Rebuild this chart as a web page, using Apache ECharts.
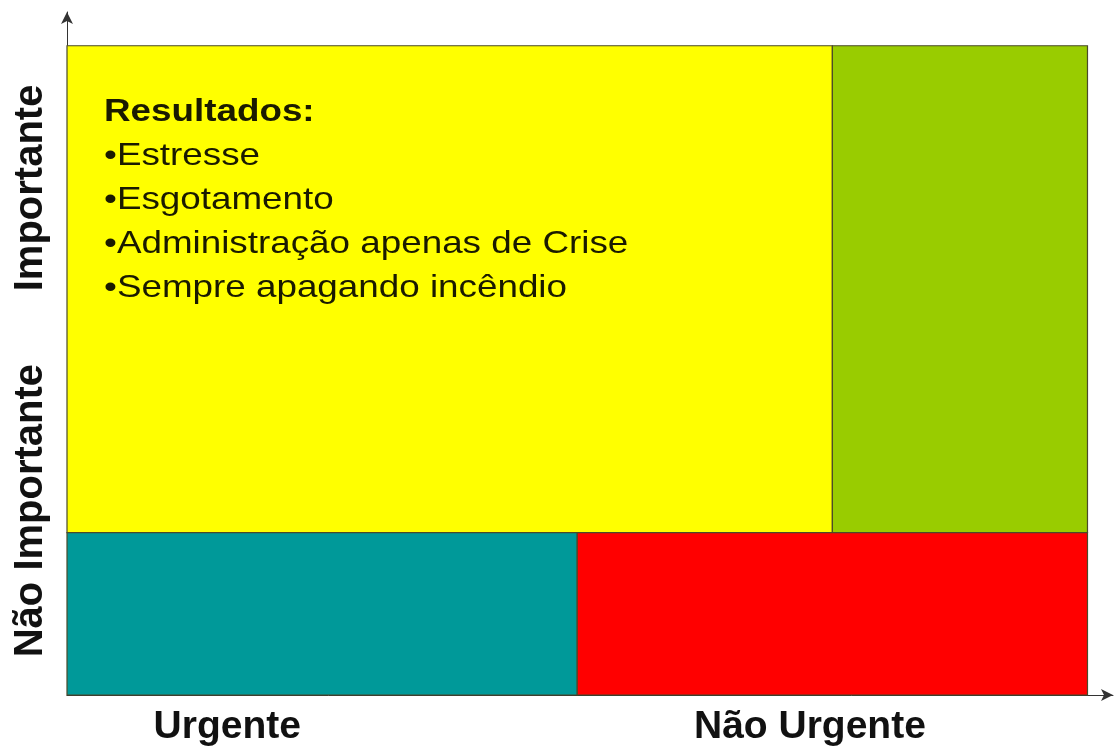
<!DOCTYPE html>
<html>
<head>
<meta charset="utf-8">
<script src="https://cdn.jsdelivr.net/npm/echarts@6/dist/echarts.min.js"></script>
<style>
html,body{margin:0;padding:0;background:#fff;}
#chart{width:1117px;height:750px;}
</style>
</head>
<body>
<div id="chart"></div>
<script>
// Quadrant rectangles (axis units)
const quadrants = ['Urgente / Importante', 'Não Urgente / Importante', 'Urgente / Não Importante', 'Não Urgente / Não Importante'];
const xStart = [0, 75, 0, 50];
const xEnd = [75, 100, 50, 100];
const yStart = [25, 25, 0, 0];
const yEnd = [100, 100, 25, 25];
const quadColors = ['#FFFF00', '#99CC00', '#009999', '#FF0000'];

// Axis labels
const xLabels = ['Urgente', 'Não Urgente'];
const xLabelValues = [15.7, 72.8];
const yLabels = ['Não Importante', 'Importante'];
const yLabelValues = [28.4, 78.1];

// Text in the first quadrant
const resultsTitle = 'Resultados:';
const resultsItems = ['Estresse', 'Esgotamento', 'Administração apenas de Crise', 'Sempre apagando incêndio'];

const data = quadrants.map((name, i) => ({
  name: name,
  value: [xStart[i], xEnd[i], yStart[i], yEnd[i]],
  itemStyle: { color: quadColors[i] }
}));

const chart = echarts.init(document.getElementById('chart'), null, { renderer: 'canvas' });

const option = {
  backgroundColor: '#ffffff',
  animation: false,
  textStyle: { fontFamily: 'Liberation Sans, Arial, sans-serif' },
  grid: { left: 67, right: 4, top: 12, bottom: 55, containLabel: false },
  xAxis: {
    type: 'value', min: 0, max: 102.5,
    axisLine: { show: true, lineStyle: { color: '#333', width: 1 }, symbol: ['none', 'arrow'], symbolSize: [9, 12] },
    axisTick: { show: false },
    splitLine: { show: false },
    axisLabel: {
      customValues: xLabelValues,
      formatter: function (v) {
        const i = xLabelValues.indexOf(v);
        return i >= 0 ? xLabels[i] : '';
      },
      fontSize: 39, fontWeight: 'bold', color: '#111', margin: 13,
      fontFamily: 'Liberation Sans, Arial, sans-serif'
    }
  },
  yAxis: {
    type: 'value', min: 0, max: 105.2,
    axisLine: { show: true, lineStyle: { color: '#333', width: 1 }, symbol: ['none', 'arrow'], symbolSize: [9, 12] },
    axisTick: { show: false },
    splitLine: { show: false },
    axisLabel: {
      customValues: yLabelValues,
      formatter: function (v) {
        const i = yLabelValues.indexOf(v);
        return i >= 0 ? yLabels[i] : '';
      },
      rotate: 90,
      fontSize: 40, fontWeight: 'bold', color: '#111', margin: 16,
      fontFamily: 'Liberation Sans, Arial, sans-serif'
    }
  },
  series: [{
    type: 'custom',
    renderItem: function (params, api) {
      const p0 = api.coord([api.value(0), api.value(3)]);
      const p1 = api.coord([api.value(1), api.value(2)]);
      return {
        type: 'rect',
        shape: { x: p0[0], y: p0[1], width: p1[0] - p0[0], height: p1[1] - p0[1] },
        style: { fill: api.visual('color'), stroke: '#4a4a2a', lineWidth: 1.2 }
      };
    },
    encode: { x: [0, 1], y: [2, 3] },
    data: data,
    z: 1
  }],
  graphic: [{
    type: 'text',
    left: 104,
    top: 96,
    scaleX: 1.15,
    z: 10,
    style: {
      text: '{t|' + resultsTitle + '}\n' + resultsItems.map(s => '{b|•' + s + '}').join('\n'),
      rich: {
        t: { fontSize: 32, fontWeight: 'bold', lineHeight: 44, fill: '#1a1a00', fontFamily: 'Liberation Sans, Arial, sans-serif' },
        b: { fontSize: 32, lineHeight: 44, fill: '#1a1a00', fontFamily: 'Liberation Sans, Arial, sans-serif' }
      }
    }
  }]
};

chart.setOption(option);
</script>
</body>
</html>
